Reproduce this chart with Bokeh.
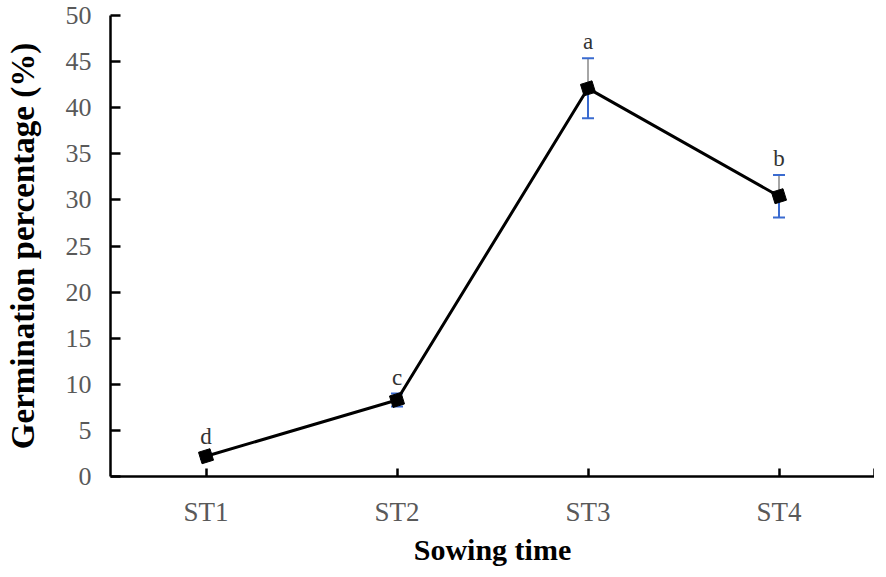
from bokeh.plotting import figure
from bokeh.models import ColumnDataSource, Whisker, TeeHead, FixedTicker, Range1d
from bokeh.embed import file_html
from bokeh.resources import INLINE
from bokeh.core.properties import value

# Data
categories = ["ST1", "ST2", "ST3", "ST4"]
germination = [2.2, 8.3, 42.1, 30.4]
errors = [0.3, 0.7, 3.25, 2.3]
letters = ["d", "c", "a", "b"]
y_ticks = [0, 5, 10, 15, 20, 25, 30, 35, 40, 45, 50]

xs = list(range(1, len(categories) + 1))
upper = [g + e for g, e in zip(germination, errors)]
lower = [g - e for g, e in zip(germination, errors)]

src = ColumnDataSource(dict(x=xs, y=germination, upper=upper, lower=lower, lab=letters))

FONT = "Liberation Serif"

p = figure(frame_width=764, frame_height=461, output_backend="svg", toolbar_location=None,
           x_range=Range1d(0.5, len(categories) + 0.5), y_range=Range1d(0, 50),
           min_border_left=110, min_border_right=0, min_border_top=15, min_border_bottom=84)
p.outline_line_color = None
p.xgrid.visible = False
p.ygrid.visible = False
p.background_fill_color = "white"
p.border_fill_color = "white"

# Error bars (under markers)
w_up = Whisker(base="x", upper="upper", lower="y", source=src, line_color="#A6A6A6", line_width=2,
               upper_head=TeeHead(size=12, line_color="#3A6BD0", line_width=2), lower_head=None,
               level="underlay")
w_lo = Whisker(base="x", upper="y", lower="lower", source=src, line_color="#3A6BD0", line_width=2,
               lower_head=TeeHead(size=12, line_color="#3A6BD0", line_width=2), upper_head=None,
               level="underlay")
p.add_layout(w_up)
p.add_layout(w_lo)

p.line("x", "y", source=src, line_color="black", line_width=3)
p.scatter("x", "y", source=src, marker="square", size=12, fill_color="black", line_color="black",
          angle=0.3)

p.text("x", "upper", text="lab", source=src, text_font=value(FONT), text_font_size="23px",
       text_color="#333333", text_align="center", text_baseline="bottom", y_offset=-4)

# X axis
xa = p.xaxis[0]
xa.ticker = FixedTicker(ticks=xs + [len(categories) + 0.5])
xa.major_label_overrides = {**{x: c for x, c in zip(xs, categories)}, len(categories) + 0.5: ""}
xa.major_tick_in = 8
xa.major_tick_out = 0
xa.minor_tick_line_color = None
xa.axis_line_width = 2.5
xa.major_tick_line_width = 2.5
xa.axis_line_color = "black"
xa.major_tick_line_color = "black"
xa.major_label_text_font = FONT
xa.major_label_text_font_size = "27px"
xa.major_label_text_color = "#595959"
xa.major_label_standoff = 20
xa.axis_label = "Sowing time"
xa.axis_label_text_font = FONT
xa.axis_label_text_font_style = "bold"
xa.axis_label_text_font_size = "30px"
xa.axis_label_text_color = "black"
xa.axis_label_standoff = 3

# Y axis
ya = p.yaxis[0]
ya.ticker = FixedTicker(ticks=y_ticks)
ya.major_tick_in = 10
ya.major_tick_out = 0
ya.minor_tick_line_color = None
ya.axis_line_width = 2.5
ya.major_tick_line_width = 2.5
ya.axis_line_color = "black"
ya.major_tick_line_color = "black"
ya.major_label_text_font = FONT
ya.major_label_text_font_size = "26px"
ya.major_label_text_color = "#595959"
ya.major_label_standoff = 19
ya.axis_label = "Germination percentage (%)"
ya.axis_label_text_font = FONT
ya.axis_label_text_font_style = "bold"
ya.axis_label_text_font_size = "33px"
ya.axis_label_text_color = "black"
ya.axis_label_standoff = 22

open("out.html", "w").write(file_html(p, INLINE))
